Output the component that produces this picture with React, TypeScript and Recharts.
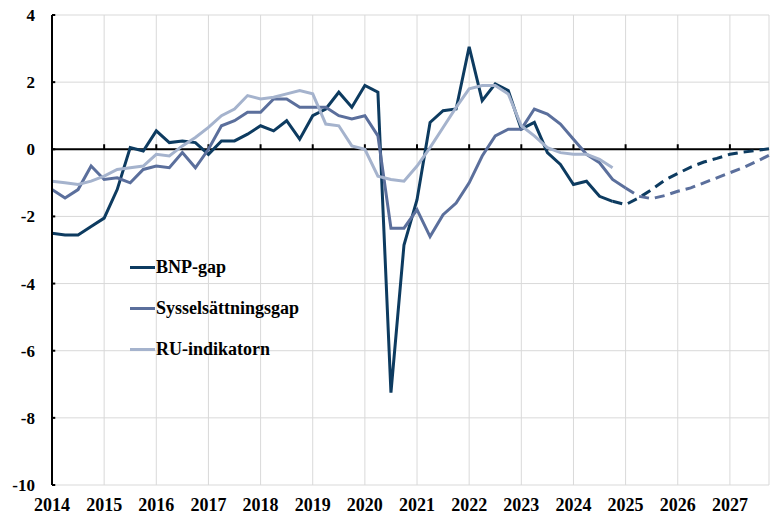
import React from 'react';
import { LineChart, Line, XAxis, YAxis, CartesianGrid, ReferenceLine } from 'recharts';

const yearLabels = ['2014', '2015', '2016', '2017', '2018', '2019', '2020', '2021', '2022', '2023', '2024', '2025', '2026', '2027'];
const quarterLabels = ['K1', 'K2', 'K3', 'K4'];

// 2014K1 - 2024K4
const bnpGap = [
  -2.5, -2.55, -2.55, -2.3,
  -2.05, -1.2, 0.05, -0.05,
  0.55, 0.2, 0.25, 0.2,
  -0.15, 0.25, 0.25, 0.45,
  0.7, 0.55, 0.85, 0.3,
  1.0, 1.2, 1.7, 1.25,
  1.9, 1.7, -7.25, -2.85,
  -1.5, 0.8, 1.15, 1.2,
  3.05, 1.45, 1.95, 1.75,
  0.6, 0.8, -0.1, -0.45,
  -1.05, -0.95, -1.4, -1.55,
];
// 2014K1 - 2025K1
const sysselGap = [
  -1.2, -1.45, -1.2, -0.5,
  -0.9, -0.85, -1.0, -0.6,
  -0.5, -0.55, -0.1, -0.55,
  0.0, 0.7, 0.85, 1.1,
  1.1, 1.5, 1.5, 1.25,
  1.25, 1.25, 1.0, 0.9,
  1.0, 0.4, -2.35, -2.35,
  -1.8, -2.6, -1.95, -1.6,
  -1.0, -0.2, 0.4, 0.6,
  0.6, 1.2, 1.05, 0.75,
  0.3, -0.15, -0.4, -0.9,
  -1.15,
];
// 2014K1 - 2024K4
const ruIndikatorn = [
  -0.95, -1.0, -1.05, -0.95,
  -0.8, -0.6, -0.55, -0.5,
  -0.15, -0.2, 0.1, 0.35,
  0.65, 1.0, 1.2, 1.6,
  1.5, 1.55, 1.65, 1.75,
  1.65, 0.75, 0.7, 0.1,
  0.0, -0.8, -0.9, -0.95,
  -0.5, 0.05, 0.65, 1.25,
  1.8, 1.9, 1.9, 1.65,
  0.7, 0.4, 0.05, -0.1,
  -0.15, -0.15, -0.3, -0.55,
];
// Prognos BNP-gap from 2024K4 to 2027K4
const bnpForecastStart = 43;
const bnpForecast = [-1.55, -1.65, -1.45, -1.2, -0.92, -0.72, -0.53, -0.38, -0.27, -0.15, -0.08, -0.04, 0.02];
// Prognos sysselsättningsgap from 2025K1 to 2027K4
const sysselForecastStart = 44;
const sysselForecast = [-1.15, -1.4, -1.47, -1.38, -1.25, -1.15, -1.0, -0.85, -0.7, -0.55, -0.37, -0.18];

const yTicks = [-10, -8, -6, -4, -2, 0, 2, 4];

const data = yearLabels.flatMap((y, yi) =>
  quarterLabels.map((q, qi) => {
    const i = yi * 4 + qi;
    const bf = i - bnpForecastStart;
    const sf = i - sysselForecastStart;
    return {
      t: i,
      period: `${y}${q}`,
      bnp: i < bnpGap.length ? bnpGap[i] : null,
      syssel: i < sysselGap.length ? sysselGap[i] : null,
      ru: i < ruIndikatorn.length ? ruIndikatorn[i] : null,
      bnpF: bf >= 0 && bf < bnpForecast.length ? bnpForecast[bf] : null,
      sysselF: sf >= 0 && sf < sysselForecast.length ? sysselForecast[sf] : null,
    };
  })
);
const xTicks = yearLabels.map((_, yi) => yi * 4);

const C_BNP = '#0d3b60';
const C_SYS = '#5b6f9c';
const C_RU = '#a5b3cd';
const FONT = "'Times New Roman', 'Liberation Serif', serif";

const legendItems = [
  { name: 'BNP-gap', color: C_BNP },
  { name: 'Sysselsättningsgap', color: C_SYS },
  { name: 'RU-indikatorn', color: C_RU },
];

const LegendContent = () => (
  <div
    style={{
      position: 'absolute',
      left: 130,
      top: 247,
      fontFamily: FONT,
      fontWeight: 'bold',
      fontSize: 18,
      color: '#000',
    }}
  >
    {legendItems.map((it) => (
      <div key={it.name} style={{ display: 'flex', alignItems: 'center', height: 41 }}>
        <div style={{ width: 25, height: 3, background: it.color }} />
        <span style={{ marginLeft: 1 }}>{it.name}</span>
      </div>
    ))}
  </div>
);

export default function App() {
  return (
    <div style={{ position: 'absolute', left: 0, top: 0, width: 775, height: 516, background: '#fff' }}>
      <LineChart width={775} height={516} data={data} margin={{ top: 15, right: 6, bottom: 0, left: 0 }}>
        <CartesianGrid stroke="#d9d9d9" strokeWidth={1} />
        <XAxis
          dataKey="t"
          type="number"
          domain={[0, 55]}
          ticks={xTicks}
          tickFormatter={(v) => yearLabels[v / 4]}
          axisLine={false}
          tickLine={false}
          tickSize={0}
          tickMargin={13}
          height={31}
          interval={0}
          tick={{ fill: '#000', fontSize: 18, fontWeight: 'bold', fontFamily: FONT }}
        />
        <YAxis
          type="number"
          domain={[-10, 4]}
          ticks={yTicks}
          width={52}
          axisLine={{ stroke: '#000', strokeWidth: 2 }}
          tickLine={false}
          tickSize={0}
          tickMargin={17}
          interval={0}
          tick={{ fill: '#000', fontSize: 17, fontWeight: 'bold', fontFamily: FONT }}
        />
        <ReferenceLine y={0} stroke="#000" strokeWidth={2} />
        {xTicks.filter((t) => t > 0).map((t) => (
          <ReferenceLine key={`xt${t}`} segment={[{ x: t, y: 0 }, { x: t, y: 0.15 }]} stroke="#000" strokeWidth={2} />
        ))}
        {yTicks.map((v) => (
          <ReferenceLine key={`yt${v}`} segment={[{ x: 0, y: v }, { x: 0.25, y: v }]} stroke="#000" strokeWidth={2} />
        ))}
        <Line dataKey="bnp" name="BNP-gap" stroke={C_BNP} strokeWidth={3} dot={false} isAnimationActive={false} />
        <Line dataKey="syssel" name="Sysselsättningsgap" stroke={C_SYS} strokeWidth={3} dot={false} isAnimationActive={false} />
        <Line dataKey="ru" name="RU-indikatorn" stroke={C_RU} strokeWidth={3} dot={false} isAnimationActive={false} />
        <Line dataKey="bnpF" stroke={C_BNP} strokeWidth={3} strokeDasharray="10 6" dot={false} isAnimationActive={false} />
        <Line dataKey="sysselF" stroke={C_SYS} strokeWidth={3} strokeDasharray="10 6" dot={false} isAnimationActive={false} />
      </LineChart>
      <LegendContent />
    </div>
  );
}
